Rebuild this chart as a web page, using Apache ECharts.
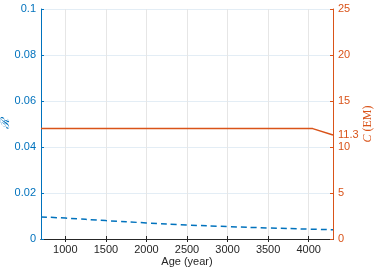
<!DOCTYPE html>
<html><head><meta charset="utf-8">
<script src="https://cdn.jsdelivr.net/npm/echarts@6/dist/echarts.min.js"></script>
<style>html,body{margin:0;padding:0;background:#fff}#c{width:374px;height:270px}</style>
</head><body><div id="c"></div>
<script>
var xTicks = [1000, 1500, 2000, 2500, 3000, 3500, 4000];
var ageR = [700, 1000, 1500, 2000, 2500, 3000, 3500, 4000, 4300];
var valR = [0.0096, 0.0091, 0.0080, 0.0070, 0.0061, 0.0054, 0.0048, 0.0043, 0.0040];
var ageC = [700, 4050, 4300];
var valC = [12, 12, 11.3];
var markC = 11.3;
var blue = '#0072BD', orange = '#D95319';
var font = 'Liberation Sans';
var chart = echarts.init(document.getElementById('c'));
chart.setOption({
  animation: false,
  grid: {left: 41, right: 41, top: 9, bottom: 31, outerBoundsMode: 'none', containLabel: false},
  xAxis: [{
    type: 'value', min: 700, max: 4300,
    name: 'Age (year)', nameLocation: 'middle', nameGap: 17, nameMoveOverlap: false,
    nameTextStyle: {color: '#262626', fontSize: 11, fontFamily: font},
    axisLine: {show: true, lineStyle: {color: '#262626', width: 1}},
    axisTick: {show: true, inside: true, length: 3, customValues: xTicks, lineStyle: {color: '#262626'}},
    axisLabel: {customValues: xTicks, color: '#262626', fontSize: 11, fontFamily: font, margin: 5,
      formatter: function(v){ return String(v); }},
    splitLine: {show: true, lineStyle: {color: '#e6e6e6', width: 1}}
  }, {
    type: 'value', min: 700, max: 4300, position: 'top',
    axisLine: {show: true, lineStyle: {color: '#262626', width: 1}},
    axisTick: {show: true, inside: true, length: 3, customValues: xTicks, lineStyle: {color: '#262626'}},
    axisLabel: {show: false}, splitLine: {show: false}
  }],
  yAxis: [{
    type: 'value', min: 0, max: 0.1, interval: 0.02, position: 'left',
    name: 'ℛ', nameLocation: 'middle', nameGap: 29, nameRotate: 90, nameMoveOverlap: false,
    nameTextStyle: {color: blue, fontSize: 12, fontFamily: 'DejaVu Serif', fontStyle: 'italic'},
    axisLine: {show: true, lineStyle: {color: blue, width: 1}},
    axisTick: {show: true, inside: true, length: 3, lineStyle: {color: blue}},
    axisLabel: {color: blue, fontSize: 11, fontFamily: font, margin: 5,
      formatter: function(v){ return v === 0 ? '0' : String(+v.toFixed(2)); }},
    splitLine: {show: true, lineStyle: {color: '#e3edf5', width: 1}}
  }, {
    type: 'value', min: 0, max: 25, interval: 5, position: 'right',
    name: '{i|C} (EM)', nameLocation: 'middle', nameGap: 29, nameRotate: 90, nameMoveOverlap: false,
    nameTextStyle: {color: orange, fontSize: 12, fontFamily: 'Liberation Serif',
      rich: {i: {fontStyle: 'italic', color: orange, fontSize: 12, fontFamily: 'Liberation Serif'}}},
    axisLine: {show: true, lineStyle: {color: orange, width: 1}},
    axisTick: {show: true, inside: true, length: 3, lineStyle: {color: orange}},
    axisLabel: {color: orange, fontSize: 11, fontFamily: font, margin: 5},
    splitLine: {show: false}
  }],
  series: [{
    type: 'line', xAxisIndex: 0, yAxisIndex: 0,
    data: ageR.map(function(a, i){ return [a, valR[i]]; }),
    showSymbol: false, smooth: true,
    lineStyle: {color: blue, width: 1.5, type: [6, 4]}
  }, {
    type: 'line', xAxisIndex: 0, yAxisIndex: 1,
    data: ageC.map(function(a, i){ return [a, valC[i]]; }),
    showSymbol: false,
    lineStyle: {color: orange, width: 1.5},
    markLine: {
      silent: true, symbol: 'none', animation: false,
      lineStyle: {color: 'rgba(0,0,0,0)', width: 1},
      label: {show: true, position: 'end', formatter: String(markC), color: orange, fontSize: 11, fontFamily: font, distance: 5},
      data: [{yAxis: markC}]
    }
  }]
});
</script></body></html>
